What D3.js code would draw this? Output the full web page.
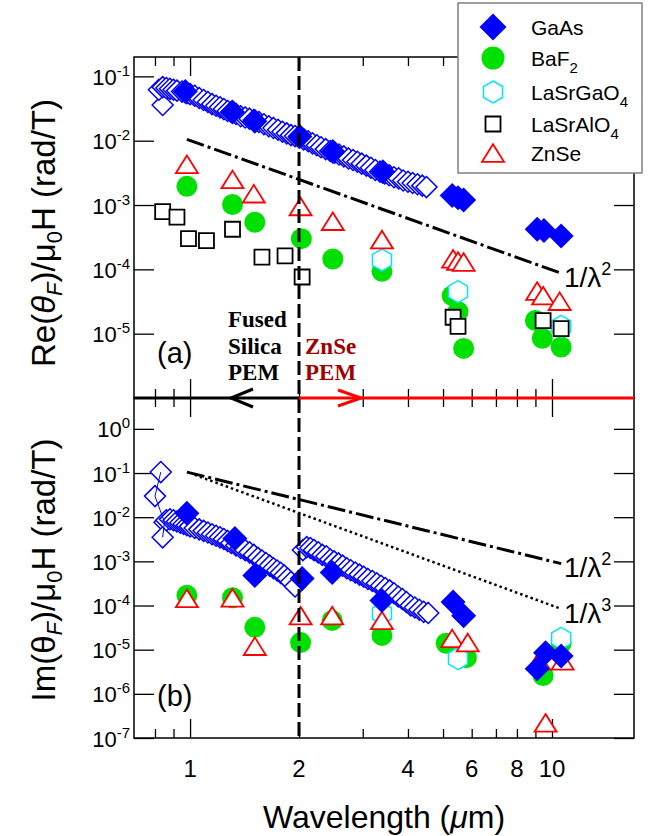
<!DOCTYPE html>
<html>
<head>
<meta charset="utf-8">
<script src="https://cdn.jsdelivr.net/npm/d3@7"></script>
<style>
  body { margin: 0; background: #fff; }
  svg text { font-family: "Liberation Sans", Arial, sans-serif; }
</style>
</head>
<body>
<script>
// ---------- data (wavelength in um, value in rad/T) ----------

// panel (a) : Re(theta_F)/mu0H
var reGaAsOpenLam = [0.84, 0.82, 0.84, 0.86, 0.88, 0.90, 0.92, 0.95, 0.98, 1.00, 1.03, 1.06, 1.09, 1.12, 1.15, 1.18, 1.21, 1.24, 1.27, 1.30, 1.34, 1.38, 1.42, 1.46, 1.50, 1.55, 1.60, 1.65, 1.70, 1.75, 1.80, 1.85, 1.90, 1.95, 2.00, 2.06, 2.12, 2.18, 2.24, 2.30, 2.37, 2.44, 2.51, 2.58, 2.66, 2.74, 2.82, 2.90, 2.98, 3.07, 3.16, 3.25, 3.35, 3.45, 3.55, 3.66, 3.77, 3.88, 4.00, 4.12, 4.25, 4.38, 4.50]
var reGaAsOpenVal = [0.036, 0.062, 0.068, 0.066, 0.064, 0.062, 0.060, 0.058, 0.055, 0.053, 0.050, 0.046, 0.043, 0.040, 0.037, 0.035, 0.033, 0.031, 0.029, 0.028, 0.026, 0.024, 0.023, 0.022, 0.021, 0.0195, 0.018, 0.0168, 0.0158, 0.0148, 0.0138, 0.013, 0.0122, 0.0118, 0.0112, 0.0105, 0.0098, 0.0091, 0.0085, 0.0079, 0.0074, 0.0069, 0.0065, 0.0061, 0.0057, 0.0053, 0.0050, 0.0047, 0.0044, 0.0041, 0.0038, 0.0035, 0.0033, 0.0031, 0.0029, 0.0027, 0.0026, 0.0024, 0.0023, 0.0022, 0.0021, 0.0020, 0.0019]
var reGaAsLam = [0.97, 1.31, 1.51, 2.01, 2.48, 3.41, 5.3, 5.5, 5.7, 9.1, 9.5, 10.6]
var reGaAsVal = [0.058, 0.028, 0.020, 0.0116, 0.0068, 0.0033, 0.0014, 0.0013, 0.0012, 0.00042, 0.00040, 0.00033]
var reBaF2Lam = [0.98, 1.31, 1.51, 2.03, 2.48, 3.39, 5.3, 5.5, 5.7, 9.0, 9.4, 10.6]
var reBaF2Val = [0.00195, 0.00102, 0.00054, 0.00030, 0.000145, 0.000093, 0.000039, 0.000022, 0.0000059, 0.000016, 0.0000085, 0.0000062]
var reLaSrGaLam = [3.39, 5.5, 10.6]
var reLaSrGaVal = [0.00014, 0.000045, 0.000013]
var reLaSrAlLam = [0.84, 0.92, 0.99, 1.11, 1.31, 1.58, 1.83, 2.04, 5.33, 5.5, 9.45, 10.6]
var reLaSrAlVal = [0.00079, 0.00065, 0.00030, 0.00028, 0.00042, 0.000155, 0.000162, 0.000076, 0.000018, 0.000013, 0.000016, 0.000012]
var reZnSeLam = [0.98, 1.31, 1.50, 2.02, 2.48, 3.39, 5.33, 5.5, 5.7, 9.1, 9.45, 10.5]
var reZnSeVal = [0.0043, 0.0025, 0.0015, 0.00095, 0.00056, 0.00029, 0.000146, 0.000135, 0.00013, 0.000046, 0.000039, 0.000032]
var reLine2Lam = [0.98, 10.6]
var reLine2Val = [0.0105, 0.000087]

// panel (b) : Im(theta_F)/mu0H
var imGaAsOpenLam = [0.83, 0.80, 0.85, 0.84, 0.86, 0.88, 0.90, 0.92, 0.94, 0.96, 0.98, 1.00, 1.03, 1.06, 1.09, 1.12, 1.15, 1.18, 1.21, 1.24, 1.27, 1.30, 1.34, 1.38, 1.42, 1.46, 1.50, 1.54, 1.58, 1.62, 1.66, 1.70, 1.74, 1.78, 1.82, 1.86, 1.90, 1.95, 2.05, 2.10, 2.15, 2.20, 2.26, 2.32, 2.38, 2.44, 2.50, 2.57, 2.64, 2.71, 2.78, 2.86, 2.94, 3.02, 3.10, 3.19, 3.28, 3.37, 3.46, 3.56, 3.66, 3.76, 3.86, 3.96, 4.07, 4.18, 4.30, 4.42, 4.55]
var imGaAsOpenVal = [0.105, 0.030, 0.0077, 0.0035, 0.0085, 0.009, 0.0085, 0.008, 0.0075, 0.007, 0.0066, 0.0062, 0.0057, 0.0053, 0.0049, 0.0045, 0.0041, 0.0038, 0.0035, 0.0032, 0.0029, 0.0026, 0.0023, 0.0020, 0.0018, 0.0016, 0.0014, 0.0012, 0.00105, 0.00092, 0.0008, 0.0007, 0.00062, 0.00055, 0.00048, 0.00041, 0.00034, 0.00027, 0.0018, 0.0021, 0.0020, 0.0018, 0.0016, 0.0014, 0.0013, 0.0011, 0.0010, 0.0009, 0.0008, 0.0007, 0.00063, 0.00056, 0.0005, 0.00045, 0.0004, 0.00036, 0.00032, 0.00028, 0.00025, 0.00022, 0.00019, 0.00016, 0.00014, 0.00012, 0.0001, 0.00009, 0.00008, 0.000072, 0.000068]
var imGaAsLam = [0.98, 1.33, 1.51, 2.04, 2.47, 3.39, 5.33, 5.7, 9.1, 9.6, 10.6]
var imGaAsVal = [0.0123, 0.0033, 0.00048, 0.00041, 0.00056, 0.00013, 0.00012, 0.000059, 0.0000037, 0.0000085, 0.0000072]
var imBaF2Lam = [0.98, 1.31, 1.51, 2.02, 2.47, 3.39, 5.1, 5.8, 9.45, 10.6]
var imBaF2Val = [0.00017, 0.00015, 0.000032, 0.0000145, 0.000046, 0.000021, 0.000014, 0.0000066, 0.0000026, 0.000014]
var imLaSrGaLam = [3.39, 5.5, 10.6]
var imLaSrGaVal = [0.000066, 0.0000063, 0.000018]
var imZnSeLam = [0.98, 1.31, 1.51, 2.02, 2.47, 3.39, 5.3, 5.85, 9.2, 10.7, 9.6]
var imZnSeVal = [0.000145, 0.00015, 0.000012, 0.000059, 0.000059, 0.000046, 0.000018, 0.0000145, 0.0000056, 0.0000056, 0.00000022]
var imLine2Lam = [0.98, 10.6]
var imLine2Val = [0.105, 0.00089]
var imLine3Lam = [1.03, 10.6]
var imLine3Val = [0.091, 0.000084]

// axis ticks
var xMajor = [1, 10]
var xMinor = [0.8, 0.9, 2, 3, 4, 5, 6, 7, 8, 9]
var xLabels = [1, 2, 4, 6, 8, 10]
var reExponents = [-1, -2, -3, -4, -5]
var imExponents = [0, -1, -2, -3, -4, -5, -6, -7]

// ---------- layout ----------
var left = 134, right = 634
var reTop = 57, mid = 398, imBottom = 738
var blue = "#0000ff", green = "#00e000", cyan = "#00e5ff", red = "#ff0000"

var svg = d3.select("body").append("svg")
  .attr("width", 650)
  .attr("height", 836)

var x = d3.scaleLog().domain([0.70, 16.85]).range([left, right])
var yRe = d3.scaleLog().domain([1e-6, 0.2]).range([mid, reTop])
var yIm = d3.scaleLog().domain([1e-7, 5]).range([imBottom, mid])

// marker shapes, size = width * width
var diamond = { draw: function(c, s) {
  var r = Math.sqrt(s) / 2
  c.moveTo(0, -r); c.lineTo(r, 0); c.lineTo(0, r); c.lineTo(-r, 0); c.closePath()
}}
var hexagon = { draw: function(c, s) {
  var r = Math.sqrt(s) / 2
  for (var k = 0; k < 6; k++) {
    var a = Math.PI / 3 * k
    if (k == 0) c.moveTo(r * Math.sin(a), -r * Math.cos(a))
    else c.lineTo(r * Math.sin(a), -r * Math.cos(a))
  }
  c.closePath()
}}
var triangle = { draw: function(c, s) {
  var w = Math.sqrt(s), h = w * 0.8
  c.moveTo(0, -h / 2); c.lineTo(w / 2, h / 2); c.lineTo(-w / 2, h / 2); c.closePath()
}}
var square = { draw: function(c, s) {
  var r = Math.sqrt(s) / 2
  c.rect(-r, -r, 2 * r, 2 * r)
}}
var circle = { draw: function(c, s) {
  var r = Math.sqrt(s) / 2
  c.moveTo(r, 0); c.arc(0, 0, r, 0, 2 * Math.PI)
}}

function zip(lam, val) {
  return lam.map(function(l, i) { return {lam: l, v: val[i]} })
}

function drawSymbols(y, lam, val, type, w, fill, stroke, sw) {
  svg.append("g")
    .selectAll("path")
    .data(zip(lam, val))
    .enter()
    .append("path")
    .attr("transform", function(d) { return "translate(" + x(d.lam) + "," + y(d.v) + ")" })
    .attr("d", d3.symbol().type(type).size(w * w))
    .attr("fill", fill)
    .attr("stroke", stroke)
    .attr("stroke-width", sw)
}

function drawRefLine(y, lam, val, dash, sw) {
  svg.append("path")
    .datum(zip(lam, val))
    .attr("d", d3.line().x(function(d) { return x(d.lam) }).y(function(d) { return y(d.v) }))
    .attr("fill", "none")
    .attr("stroke", "#000")
    .attr("stroke-width", sw)
    .attr("stroke-dasharray", dash)
}

// ---------- frames and ticks ----------
function drawPanel(y, top, bottom, exponents) {
  svg.append("rect")
    .attr("x", left).attr("y", top)
    .attr("width", right - left).attr("height", bottom - top)
    .attr("fill", "none").attr("stroke", "#000").attr("stroke-width", 1.5)

  var tickSets = [[xMajor, 19], [xMinor, 9]]
  tickSets.forEach(function(t) {
    svg.append("g").attr("transform", "translate(0," + bottom + ")")
      .call(d3.axisBottom(x).tickValues(t[0]).tickSize(-t[1]).tickFormat(""))
    svg.append("g").attr("transform", "translate(0," + top + ")")
      .call(d3.axisTop(x).tickValues(t[0]).tickSize(-t[1]).tickFormat(""))
  })

  var values = exponents.map(function(e) { return Math.pow(10, e) })
  svg.append("g").attr("transform", "translate(" + left + ",0)")
    .call(d3.axisLeft(y).tickValues(values).tickSize(-20).tickFormat(""))
  svg.append("g").attr("transform", "translate(" + right + ",0)")
    .call(d3.axisRight(y).tickValues(values).tickSize(-20).tickFormat(""))

  svg.selectAll(".domain").remove()
  svg.selectAll(".tick line").attr("stroke-width", 1.3)

  // y tick labels 10^n
  var lab = svg.append("g").selectAll("text")
    .data(exponents).enter().append("text")
    .attr("x", 130)
    .attr("y", function(e) { return y(Math.pow(10, e)) + 8.5 })
    .attr("text-anchor", "end")
    .style("font-size", "22px")
  lab.append("tspan").text("10")
  lab.append("tspan").attr("dy", -9).style("font-size", "15px").text(function(e) { return e })
}

drawPanel(yRe, reTop, mid, reExponents)
drawPanel(yIm, mid, imBottom, imExponents)

// x tick labels
svg.append("g").selectAll("text")
  .data(xLabels).enter().append("text")
  .attr("x", function(d) { return x(d) })
  .attr("y", 777)
  .attr("text-anchor", "middle")
  .style("font-size", "24px")
  .text(function(d) { return d })

// ---------- power-law guide lines ----------
drawRefLine(yRe, reLine2Lam, reLine2Val, "18,4,3,4", 3)
drawRefLine(yIm, imLine2Lam, imLine2Val, "18,4,3,4", 3)
drawRefLine(yIm, imLine3Lam, imLine3Val, "2.5,3", 2.5)

// ---------- data panel (a) ----------
drawSymbols(yRe, reBaF2Lam, reBaF2Val, circle, 21, green, "none", 0)
drawSymbols(yRe, reLaSrGaLam, reLaSrGaVal, hexagon, 22, "#fff", cyan, 1.5)
drawSymbols(yRe, reLaSrAlLam, reLaSrAlVal, square, 15, "#fff", "#000", 1.8)
drawSymbols(yRe, reZnSeLam, reZnSeVal, triangle, 22, "#fff", red, 1.8)
drawSymbols(yRe, reGaAsOpenLam, reGaAsOpenVal, diamond, 21, "#fff", blue, 1.5)
drawSymbols(yRe, reGaAsLam, reGaAsVal, diamond, 25, blue, "none", 0)

// ---------- data panel (b) ----------
drawSymbols(yIm, imBaF2Lam, imBaF2Val, circle, 21, green, "none", 0)
drawSymbols(yIm, imLaSrGaLam, imLaSrGaVal, hexagon, 22, "#fff", cyan, 1.5)
drawSymbols(yIm, imZnSeLam, imZnSeVal, triangle, 22, "#fff", red, 1.8)
drawSymbols(yIm, imGaAsOpenLam, imGaAsOpenVal, diamond, 21, "#fff", blue, 1.5)
// thin line joining the first few short-wavelength points
svg.append("path")
  .datum(zip(imGaAsOpenLam.slice(0, 4), imGaAsOpenVal.slice(0, 4)))
  .attr("d", d3.line().x(function(d) { return x(d.lam) }).y(function(d) { return yIm(d.v) }))
  .attr("fill", "none").attr("stroke", blue).attr("stroke-width", 1)
drawSymbols(yIm, imGaAsLam, imGaAsVal, diamond, 25, blue, "none", 0)

// ---------- PEM boundary and arrows ----------
svg.append("line")
  .attr("x1", x(2)).attr("x2", x(2))
  .attr("y1", reTop).attr("y2", imBottom)
  .attr("stroke", "#000").attr("stroke-width", 3)
  .attr("stroke-dasharray", "14,5")

svg.append("line")
  .attr("x1", left).attr("x2", x(2)).attr("y1", mid).attr("y2", mid)
  .attr("stroke", "#000").attr("stroke-width", 3)
svg.append("line")
  .attr("x1", x(2)).attr("x2", right).attr("y1", mid).attr("y2", mid)
  .attr("stroke", red).attr("stroke-width", 3)
svg.append("polyline")
  .attr("points", "253,389 231,398 253,407")
  .attr("fill", "none").attr("stroke", "#000").attr("stroke-width", 3)
svg.append("polyline")
  .attr("points", "338,390 361,398 338,406")
  .attr("fill", "none").attr("stroke", red).attr("stroke-width", 3)

// ---------- annotations ----------
function serifLines(lines, xPos, y0, color) {
  lines.forEach(function(s, i) {
    svg.append("text")
      .attr("x", xPos).attr("y", y0 + i * 26.5)
      .style("font-family", "'Liberation Serif', 'Times New Roman', serif")
      .style("font-weight", "bold")
      .style("font-size", "23px")
      .attr("fill", color)
      .text(s)
  })
}
serifLines(["Fused", "Silica", "PEM"], 228, 327, "#000")
serifLines(["ZnSe", "PEM"], 305, 353.5, "#a00000")

svg.append("text").attr("x", 157).attr("y", 363).style("font-size", "29px").text("(a)")
svg.append("text").attr("x", 157).attr("y", 706).style("font-size", "29px").text("(b)")

function powerLabel(yPos, power) {
  var t = svg.append("text").attr("x", 564).attr("y", yPos).style("font-size", "28px")
  t.append("tspan").text("1/λ")
  t.append("tspan").attr("dy", -12).style("font-size", "18px").text(power)
}
powerLabel(287, "2")
powerLabel(577, "2")
powerLabel(623, "3")

// axis titles
svg.append("text")
  .attr("x", 384).attr("y", 828)
  .attr("text-anchor", "middle")
  .style("font-size", "32px")
  .call(function(t) {
    t.append("tspan").text("Wavelength (")
    t.append("tspan").style("font-style", "italic").text("μ")
    t.append("tspan").text("m)")
  })

function yTitle(cy, prefix, thetaItalic) {
  var t = svg.append("text")
    .attr("transform", "translate(55," + cy + ") rotate(-90)")
    .attr("text-anchor", "middle")
    .style("font-size", "33px")
  t.append("tspan").text(prefix + "(")
  t.append("tspan").style("font-style", thetaItalic ? "italic" : "normal").text("θ")
  t.append("tspan").attr("dy", 7).style("font-size", "22px").style("font-style", "italic").text("F")
  t.append("tspan").attr("dy", -7).text(")/μ")
  t.append("tspan").attr("dy", 7).style("font-size", "22px").text("0")
  t.append("tspan").attr("dy", -7).text("H (rad/T)")
}
yTitle(233, "Re", true)
yTitle(570, "Im", false)

// ---------- legend ----------
var legend = svg.append("g")
legend.append("rect")
  .attr("x", 458).attr("y", 3).attr("width", 184).attr("height", 170)
  .attr("fill", "#fff").attr("stroke", "#808080").attr("stroke-width", 1.5)

var legendNames = ["GaAs", "BaF", "LaSrGaO", "LaSrAlO", "ZnSe"]
var legendSubs = ["", "2", "4", "4", ""]
var legendRows = [27, 58, 92, 124, 153]
var legendStyle = [
  [diamond, 27, blue, "none", 0],
  [circle, 23, green, "none", 0],
  [hexagon, 22, "#fff", cyan, 1.5],
  [square, 15, "#fff", "#000", 1.8],
  [triangle, 22, "#fff", red, 1.8]
]
legendRows.forEach(function(ry, i) {
  var st = legendStyle[i]
  legend.append("path")
    .attr("transform", "translate(493," + ry + ")")
    .attr("d", d3.symbol().type(st[0]).size(st[1] * st[1]))
    .attr("fill", st[2]).attr("stroke", st[3]).attr("stroke-width", st[4])
  var t = legend.append("text").attr("x", 531).attr("y", ry + 7.5).style("font-size", "21px")
  t.append("tspan").text(legendNames[i])
  if (legendSubs[i]) t.append("tspan").attr("dy", 7).style("font-size", "15px").text(legendSubs[i])
})
</script>
</body>
</html>
